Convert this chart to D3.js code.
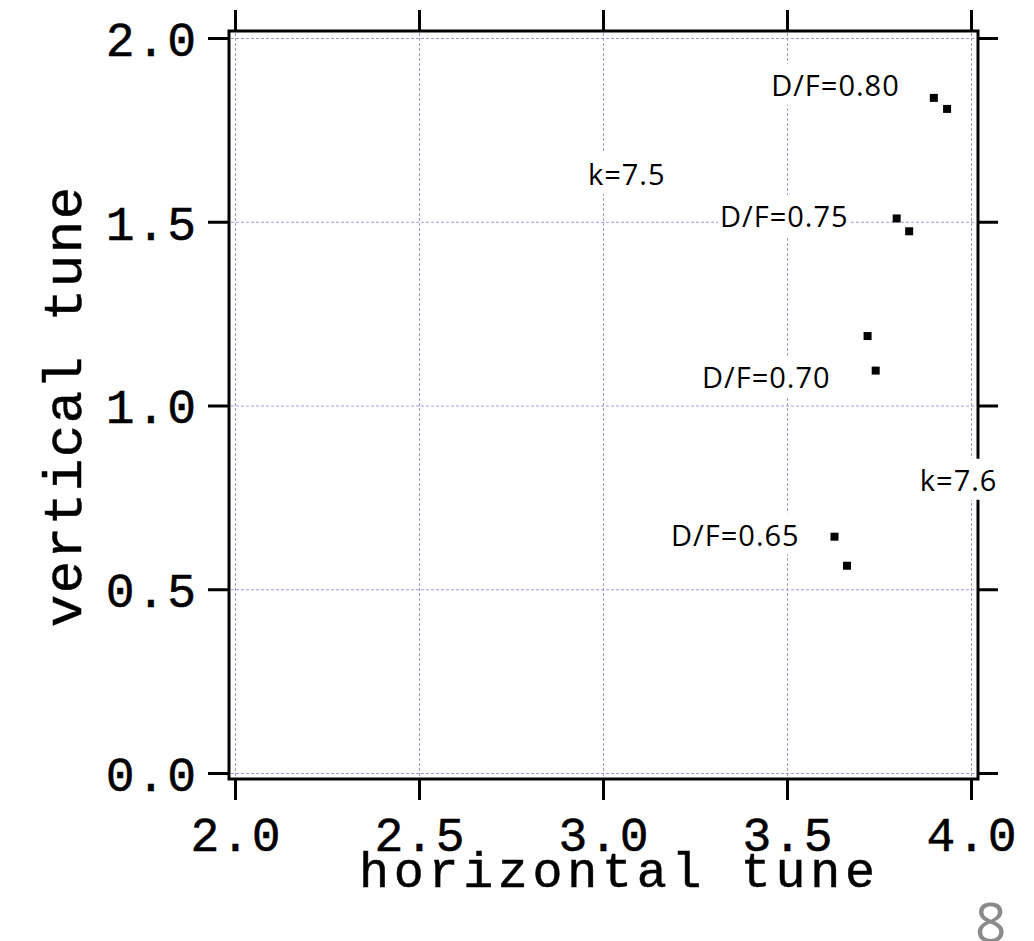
<!DOCTYPE html>
<html>
<head>
<meta charset="utf-8">
<script src="https://cdn.jsdelivr.net/npm/d3@7/dist/d3.min.js"></script>
<style>
  html, body { margin: 0; padding: 0; background: #fff; }
  svg { display: block; }
</style>
</head>
<body>
<script>
// ---- data ----
const xTicks = [2.0, 2.5, 3.0, 3.5, 4.0];
const yTicks = [0.0, 0.5, 1.0, 1.5, 2.0];
const tuneX = [3.629, 3.663, 3.719, 3.741, 3.798, 3.832, 3.899, 3.935];
const tuneY = [0.643, 0.564, 1.189, 1.095, 1.509, 1.474, 1.837, 1.807];
const labelText = ["D/F=0.80", "D/F=0.75", "D/F=0.70", "D/F=0.65", "k=7.5", "k=7.6"];
const labelX = [3.457, 3.318, 3.269, 3.185, 2.959, 3.861];
const labelY = [1.842, 1.486, 1.048, 0.619, 1.600, 0.768];
const xTitle = "horizontal tune";
const yTitle = "vertical tune";
const pageNumber = "8";

// ---- layout ----
const W = 1034, H = 941;
const box = { left: 229, right: 978, top: 31, bottom: 779 };
const x = d3.scaleLinear().domain([2, 4]).range([235, 971]);
const y = d3.scaleLinear().domain([0, 2]).range([773, 38]);
const monoFont = "'Liberation Mono', 'Courier New', monospace";
const sansFont = "'Open Sans', 'Noto Sans', sans-serif";
const tickFs = 48, tickLs = 1.9;
const xTitleFs = 50, xTitleLs = 4.7;
const yTitleFs = 54, yTitleLs = 1.6;
const monoStroke = 0.5;

const svg = d3.select("body").append("svg").attr("width", W).attr("height", H);

// grid
const grid = svg.append("g").attr("stroke", "#9c9cdc").attr("stroke-width", 1)
  .attr("stroke-dasharray", "3,2").attr("fill", "none");
grid.selectAll("line.v").data(xTicks).join("line").attr("class", "v")
  .attr("x1", d => x(d) + 0.5).attr("x2", d => x(d) + 0.5)
  .attr("y1", box.top + 2).attr("y2", box.bottom - 2);
grid.selectAll("line.h").data(yTicks).join("line").attr("class", "h")
  .attr("y1", d => y(d) + 0.5).attr("y2", d => y(d) + 0.5)
  .attr("x1", box.left + 2).attr("x2", box.right - 2);

// frame
svg.append("rect").attr("x", box.left).attr("y", box.top)
  .attr("width", box.right - box.left).attr("height", box.bottom - box.top)
  .attr("fill", "none").attr("stroke", "#000").attr("stroke-width", 3);

// axes
function styleAxis(g) {
  g.select(".domain").remove();
  g.selectAll(".tick line").attr("stroke", "#000").attr("stroke-width", 3);
  g.selectAll(".tick text").attr("fill", "#000").attr("font-family", monoFont)
    .attr("font-size", tickFs).attr("letter-spacing", tickLs)
    .attr("stroke", "#000").attr("stroke-width", monoStroke);
}
const fmt = d3.format(".1f");
svg.append("g").attr("transform", `translate(${box.left},0)`)
  .call(d3.axisLeft(y).tickValues(yTicks).tickFormat(fmt).tickSize(21).tickPadding(12))
  .call(styleAxis)
  .call(g => g.selectAll(".tick text").attr("dy", "0.36em").attr("dx", tickLs));
svg.append("g").attr("transform", `translate(${box.right},0)`)
  .call(d3.axisRight(y).tickValues(yTicks).tickFormat("").tickSize(20))
  .call(styleAxis);
svg.append("g").attr("transform", `translate(0,${box.top})`)
  .call(d3.axisTop(x).tickValues(xTicks).tickFormat("").tickSize(21))
  .call(styleAxis);
svg.append("g").attr("transform", `translate(0,${box.bottom})`)
  .call(d3.axisBottom(x).tickValues(xTicks).tickFormat(fmt).tickSize(21))
  .call(styleAxis)
  .call(g => g.selectAll(".tick text").attr("dy", null).attr("dx", tickLs / 2)
    .attr("y", 851 - box.bottom));

// points
svg.append("g").selectAll("rect").data(d3.range(tuneX.length)).join("rect")
  .attr("x", i => x(tuneX[i]) - 4).attr("y", i => y(tuneY[i]) - 4)
  .attr("width", 8).attr("height", 8).attr("fill", "#000");

// annotations with white backgrounds
const ann = svg.append("g");
labelText.forEach((t, i) => {
  const g = ann.append("g");
  const txt = g.append("text").attr("x", x(labelX[i])).attr("y", y(labelY[i]))
    .attr("font-family", sansFont).attr("font-size", 29).attr("letter-spacing", 1)
    .attr("fill", "#000").text(t);
  const bb = txt.node().getBBox();
  g.insert("rect", "text").attr("x", bb.x - 2).attr("y", bb.y - 1)
    .attr("width", bb.width + 4).attr("height", bb.height + 2).attr("fill", "#fff");
});

// titles
svg.append("text").attr("x", 617 + xTitleLs / 2).attr("y", 887).attr("text-anchor", "middle")
  .attr("font-family", monoFont).attr("font-size", xTitleFs).attr("letter-spacing", xTitleLs)
  .attr("stroke", "#000").attr("stroke-width", monoStroke)
  .attr("fill", "#000").text(xTitle);
svg.append("text").attr("transform", `translate(81,${407 - yTitleLs / 2}) rotate(-90)`)
  .attr("text-anchor", "middle")
  .attr("font-family", monoFont).attr("font-size", yTitleFs).attr("letter-spacing", yTitleLs)
  .attr("stroke", "#000").attr("stroke-width", monoStroke)
  .attr("fill", "#000").text(yTitle);

// page number
svg.append("text").attr("x", 975).attr("y", 942).attr("font-family", sansFont)
  .attr("font-size", 55).attr("fill", "#8a8a8a").text(pageNumber);
</script>
</body>
</html>
